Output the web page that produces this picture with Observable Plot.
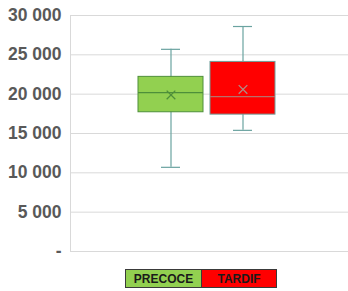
<!DOCTYPE html>
<html>
<head>
<meta charset="utf-8">
<script src="https://cdn.jsdelivr.net/npm/d3@7"></script>
<script src="https://cdn.jsdelivr.net/npm/@observablehq/plot@0.6"></script>
<style>
  html, body { margin: 0; padding: 0; background: #fff; }
  #chart { width: 348px; }
  .legend { display: flex; margin: 7px 0 0 125px; width: fit-content; border: 1px solid #3a3a3a; font: bold 12px "Liberation Sans", Arial, sans-serif; color: #1a1a1a; }
  .legend div { height: 17px; line-height: 18px; text-align: center; }
</style>
</head>
<body>
<div id="chart"></div>
<script>
const categories = ["PRECOCE", "TARDIF"];
const colors = ["#92D050", "#FF0000"];
const boxStrokes = ["#4E8F3A", "#6E9E9A"];
const whiskerLow = [10700, 15400];
const q1 = [17700, 17400];
const median = [20200, 19700];
const q3 = [22200, 24100];
const whiskerHigh = [25700, 28600];
const mean = [19900, 20600];
const yTicks = [0, 5000, 10000, 15000, 20000, 25000, 30000];

const data = categories.map((c, i) => ({
  cat: c, lo: whiskerLow[i], q1: q1[i], med: median[i], q3: q3[i], hi: whiskerHigh[i], mean: mean[i],
  fill: colors[i], stroke: boxStrokes[i]
}));

const fmt = d => d === 0 ? "-" : d3.format(",")(d).replace(/,/g, " ");

const chart = Plot.plot({
  width: 348,
  height: 262,
  marginLeft: 70,
  marginRight: 0,
  marginTop: 15,
  marginBottom: 11,
  style: { background: "#fff", fontFamily: "'Liberation Sans', Arial, sans-serif" },
  x: { type: "band", domain: categories, range: [135, 279], paddingInner: 0.097, paddingOuter: 0.0485, axis: null },
  y: { domain: [0, 30000], axis: null },
  marks: [
    Plot.gridY(yTicks, { stroke: "#d9d9d9", strokeOpacity: 1, strokeWidth: 1 }),
    Plot.frame({ anchor: "left", stroke: "#d9d9d9" }),
    Plot.axisY(yTicks, {
      tickSize: 0, tickPadding: 9, tickFormat: fmt,
      fontSize: 17.5, fontWeight: "bold", fill: "#595959"
    }),
    Plot.ruleX(data, { x: "cat", y1: "lo", y2: "hi", stroke: "#6AA3A0", strokeWidth: 1.2 }),
    Plot.tickY(data, { x: "cat", y: "lo", stroke: "#6AA3A0", strokeWidth: 1.2, insetLeft: 23, insetRight: 23 }),
    Plot.tickY(data, { x: "cat", y: "hi", stroke: "#6AA3A0", strokeWidth: 1.2, insetLeft: 23, insetRight: 23 }),
    Plot.barY(data, { x: "cat", y1: "q1", y2: "q3", fill: "fill", stroke: "stroke", strokeWidth: 1 }),
    Plot.tickY(data, { x: "cat", y: "med", stroke: d => d.cat === "PRECOCE" ? "#4E8F3A" : "#B8706A", strokeWidth: 1.2 }),
    Plot.dot(data, { x: "cat", y: "mean", symbol: "times", r: 4, stroke: d => d.cat === "PRECOCE" ? "#4E8F3A" : "#B08A86", strokeWidth: 1.3 })
  ]
});
document.getElementById("chart").appendChild(chart);

const legend = document.createElement("div");
legend.className = "legend";
categories.forEach((c, i) => {
  const item = document.createElement("div");
  item.textContent = c;
  item.style.background = colors[i];
  item.style.width = (i === 0 ? 75 : 74) + "px";
  if (i === 0) item.style.borderRight = "1px solid #3a3a3a";
  legend.appendChild(item);
});
document.getElementById("chart").appendChild(legend);
</script>
</body>
</html>
